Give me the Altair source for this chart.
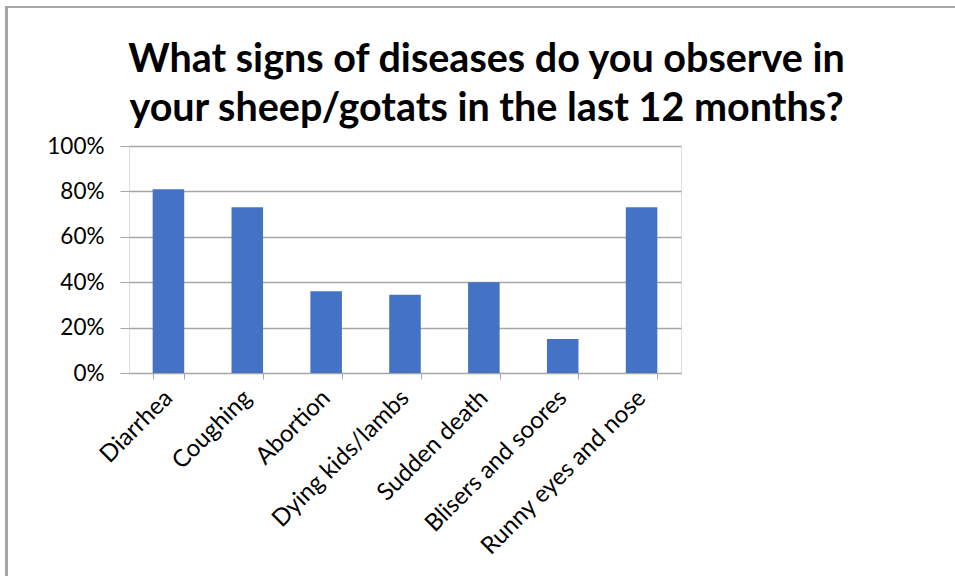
import altair as alt
import pandas as pd

# Survey answers: share of respondents observing each sign
signs = [
    "Diarrhea",
    "Coughing",
    "Abortion",
    "Dying kids/lambs",
    "Sudden death",
    "Blisers and soores",
    "Runny eyes and nose",
]
shares = [0.81, 0.73, 0.36, 0.345, 0.40, 0.15, 0.73]

title_lines = [
    "What signs of diseases do you observe in",
    "your sheep/gotats in the last 12 months?",
]

df = pd.DataFrame({"sign": signs, "share": shares})

FONT = "Lato"
PLOT_W, PLOT_H = 552, 227
PAD = {"left": 129, "top": 146, "right": 955 - 129 - PLOT_W, "bottom": 576 - 146 - PLOT_H}

bars = alt.Chart(df).mark_bar(color="#4472C4").encode(
    x=alt.X(
        "sign:N",
        sort=signs,
        title=None,
        scale=alt.Scale(paddingInner=0.6, paddingOuter=0.3),
        axis=alt.Axis(
            labelAngle=-45,
            labelAlign="right",
            labelBaseline="middle",
            labelFont=FONT,
            labelFontSize=24,
            labelColor="#000000",
            labelPadding=15,
            labelLimit=0,
            domainColor="#A6A6A6",
            tickColor="#A6A6A6",
            tickSize=6,
            tickBand="extent",
            grid=False,
        ),
    ),
    y=alt.Y(
        "share:Q",
        title=None,
        scale=alt.Scale(domain=[0, 1]),
        axis=alt.Axis(
            format=".0%",
            values=[0, 0.2, 0.4, 0.6, 0.8, 1.0],
            labelFont=FONT,
            labelFontSize=22.5,
            labelColor="#000000",
            labelPadding=16,
            domain=False,
            tickColor="#A6A6A6",
            tickSize=9,
            gridColor="#A6A6A6",
            gridWidth=1.3,
        ),
    ),
)

# outer chart frame (left and top edges)
frame = alt.Chart(df).mark_rect(
    fill=None, stroke="#A6A6A6", strokeWidth=2, clip=False
).encode(
    x=alt.value(6.5 - PAD["left"]),
    x2=alt.value(980 - PAD["left"]),
    y=alt.value(7 - PAD["top"]),
    y2=alt.value(600 - PAD["top"]),
)

# two-line bold heading above the plot
heading = [
    alt.Chart(df)
    .transform_filter("datum.sign == 'Diarrhea'")
    .mark_text(
        text=line,
        font=FONT,
        fontSize=39.5,
        fontWeight="bold",
        color="#000000",
        align="center",
        baseline="alphabetic",
    )
    .encode(x=alt.value(486.5 - PAD["left"]), y=alt.value(base - PAD["top"]))
    for line, base in zip(title_lines, [72, 121])
]

chart = (
    alt.layer(frame, bars, *heading)
    .properties(
        width=PLOT_W,
        height=PLOT_H,
        padding=PAD,
        autosize=alt.AutoSizeParams(type="none"),
    )
    .configure_view(stroke=None)
    .configure(background="#FFFFFF")
)

chart.save("out.html", embed_options={"renderer": "svg", "actions": False})
